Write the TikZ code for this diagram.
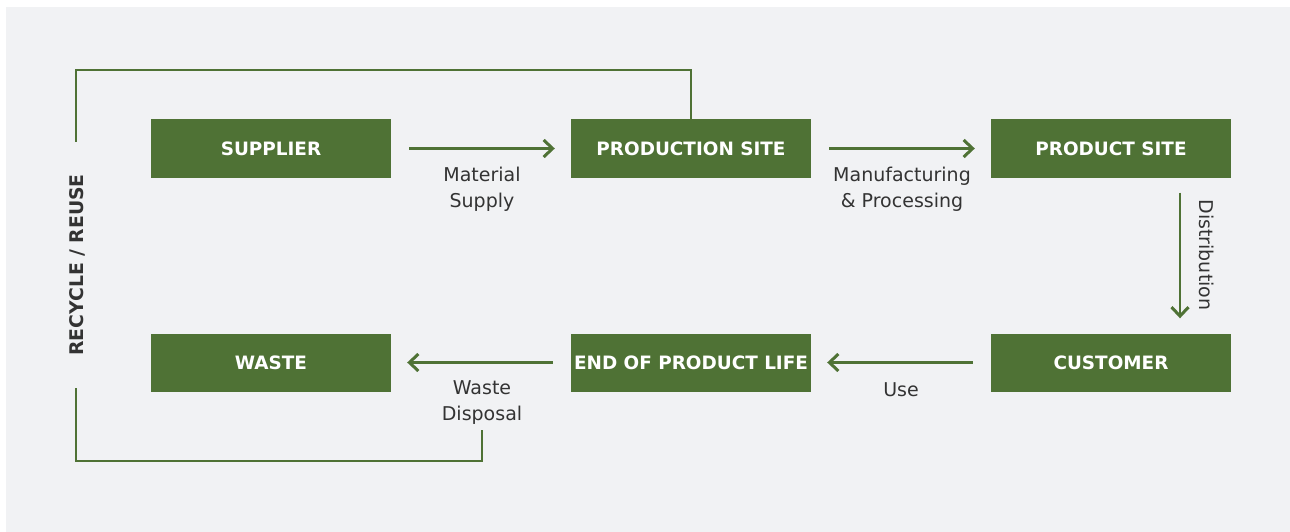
\documentclass[tikz,border=0pt]{standalone}
\usepackage{fontspec}
\setmainfont{DejaVu Sans}
\usetikzlibrary{arrows.meta}
\definecolor{grn}{RGB}{79,114,53}
\definecolor{bg}{RGB}{241,242,244}
\definecolor{txt}{RGB}{51,51,51}
\tikzset{
  box/.style={fill=grn, text=white, minimum width=240pt, minimum height=58pt, inner sep=0pt, font=\fontsize{18.4}{22}\selectfont\bfseries},
  flow/.style={draw=grn, line width=2.9pt, -{Straight Barb[length=9pt,width=17pt,line width=3pt]}},
  loopline/.style={draw=grn, line width=2.9pt},
  lbl/.style={text=txt, align=center, font=\fontsize{19}{26}\selectfont, inner sep=0pt}
}
\begin{document}
\begin{tikzpicture}[x=1pt,y=-1pt]
\useasboundingbox (0,0) rectangle (1290,532);
\fill[white] (0,0) rectangle (1290,532);
\fill[bg] (6,7) rectangle (1290,532);
% boxes
\node[box] (sup) at (271,148.5) {SUPPLIER};
\node[box] (prod) at (691,148.5) {PRODUCTION SITE};
\node[box] (psite) at (1111,148.5) {PRODUCT SITE};
\node[box] (waste) at (271,362.5) {WASTE};
\node[box] (eol) at (691,362.5) {END OF PRODUCT LIFE};
\node[box] (cust) at (1111,362.5) {CUSTOMER};
% arrows
\draw[flow] ([xshift=18pt]sup.east) -- ([xshift=-16pt]prod.west);
\draw[flow] ([xshift=18pt]prod.east) -- ([xshift=-16pt]psite.west);
\draw[flow] ([xshift=69pt,yshift=-15pt]psite.south) -- ([xshift=69pt,yshift=15pt]cust.north);
\draw[flow] ([xshift=-18pt]cust.west) -- ([xshift=16pt]eol.east);
\draw[flow] ([xshift=-18pt]eol.west) -- ([xshift=16pt]waste.east);
% labels
\node[lbl] (l1) at (482,189) {Material\\Supply};
\node[lbl] (l2) at (902,189) {Manufacturing\\\& Processing};
\node[lbl, rotate=-90] (l3) at (1207,255) {Distribution};
\node[lbl] (l4) at (901,390) {Use};
\node[lbl] (l5) at (482,403) {Waste\\Disposal};
\node[text=txt, rotate=90, inner sep=0pt, font=\fontsize{18.8}{22}\selectfont\bfseries] (rec) at (77,265) {RECYCLE / REUSE};
% recycle loop
\coordinate (a1) at (76,142);
\coordinate (a2) at (76,70);
\draw[loopline] (a1) -- (a2) -| (prod.north);
\coordinate (b1) at (76,388);
\coordinate (b2) at (482,430);
\draw[loopline] (b1) |- (482,461) -- (b2);
\end{tikzpicture}
\end{document}
